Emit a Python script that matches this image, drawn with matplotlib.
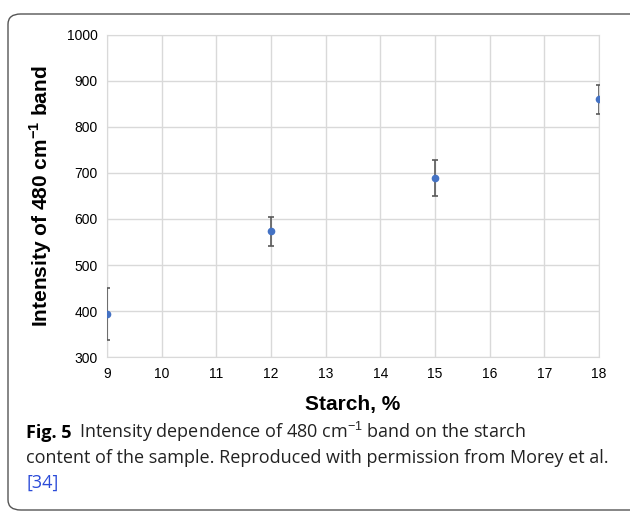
import matplotlib
matplotlib.use("Agg")
import matplotlib.pyplot as plt
from matplotlib.patches import FancyBboxPatch

starch = [9, 12, 15, 18]
intensity = [393, 573, 689, 860]
err = [57, 32, 40, 31]

plt.rcParams['font.family'] = ['Liberation Sans', 'DejaVu Sans']
plt.rcParams['mathtext.fontset'] = 'custom'
plt.rcParams['mathtext.rm'] = 'Liberation Sans'
plt.rcParams['mathtext.bf'] = 'Liberation Sans:bold'

fig = plt.figure(figsize=(6.3, 5.13), dpi=100)
ax = fig.add_axes([0.170, 0.304, 0.781, 0.628])

ax.errorbar(starch, intensity, yerr=err, fmt='o', color='#4472c4', ms=4.5,
            ecolor='#595959', elinewidth=1.2, capsize=2.5, capthick=1.2, zorder=3)

ax.set_xlim(9, 18)
ax.set_ylim(300, 1000)
ax.set_xticks(range(9, 19))
ax.set_yticks(range(300, 1001, 100))
ax.grid(True, color='#d9d9d9', lw=1)
ax.set_axisbelow(True)
for s in ax.spines.values():
    s.set_color('#d9d9d9')
ax.tick_params(length=0, labelsize=10, pad=7)
ax.set_xlabel('Starch, %', fontsize=15, fontweight='bold', labelpad=10)
ax.set_ylabel(r'Intensity of 480 cm$^{\mathbf{-1}}$ band', fontsize=15,
              fontweight='bold', labelpad=9)

# frame around figure
box = FancyBboxPatch((8 / 630, 3 / 513), 700 / 630, 496 / 513,
                     boxstyle='round,pad=0,rounding_size=0.02',
                     transform=fig.transFigure, fill=False,
                     ec='#555555', lw=1.0, clip_on=False)
fig.patches.append(box)

cap_font = ['Open Sans', 'DejaVu Sans']
fig.canvas.draw()
r = fig.canvas.get_renderer()
t1 = fig.text(26 / 630, 1 - 438 / 513, 'Fig. 5', fontsize=13,
              fontweight='bold', family=cap_font, va='baseline')
bb = t1.get_window_extent(r)
fig.text(bb.x1 / 630 + 0.012, 1 - 438 / 513,
         r'Intensity dependence of 480 cm$^{-1}$ band on the starch',
         fontsize=13, family=cap_font, va='baseline', color='#222222')
fig.text(26 / 630, 1 - 463 / 513,
         'content of the sample. Reproduced with permission from Morey et al.',
         fontsize=13, family=cap_font, va='baseline', color='#222222')
fig.text(26 / 630, 1 - 488 / 513, '[34]', fontsize=13, family=cap_font,
         va='baseline', color='#2b4bd8')

fig.savefig('out.png', dpi=100)
